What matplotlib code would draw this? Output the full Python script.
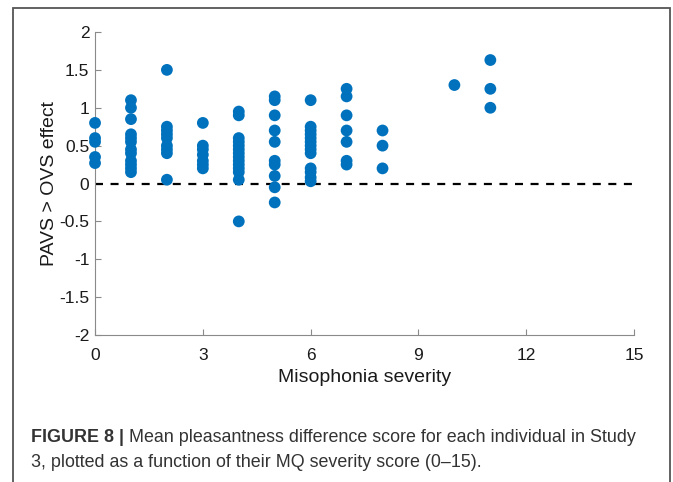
import matplotlib
matplotlib.use('Agg')
import matplotlib.pyplot as plt
from matplotlib.patches import Rectangle

plt.rcParams['font.family'] = ['Liberation Sans', 'DejaVu Sans']

# MQ severity score levels and the individual effects read at each level
severity = [0, 1, 2, 3, 4, 5, 6, 7, 8, 10, 11]
effect_0 = [0.8, 0.6, 0.55, 0.35, 0.27]
effect_1 = [1.1, 1.0, 0.85, 0.65, 0.6, 0.55, 0.45, 0.4, 0.3, 0.25, 0.2, 0.15]
effect_2 = [1.5, 0.75, 0.7, 0.65, 0.6, 0.5, 0.45, 0.4, 0.05]
effect_3 = [0.8, 0.5, 0.45, 0.38, 0.3, 0.25, 0.2]
effect_4 = [0.95, 0.9, 0.6, 0.55, 0.5, 0.45, 0.4, 0.35, 0.3, 0.25, 0.2, 0.15, 0.05, -0.5]
effect_5 = [1.15, 1.1, 0.9, 0.7, 0.55, 0.3, 0.25, 0.1, -0.05, -0.25]
effect_6 = [1.1, 0.75, 0.7, 0.65, 0.6, 0.55, 0.5, 0.45, 0.4, 0.2, 0.15, 0.08, 0.03]
effect_7 = [1.25, 1.15, 0.9, 0.7, 0.55, 0.3, 0.25]
effect_8 = [0.7, 0.5, 0.2]
effect_10 = [1.3]
effect_11 = [1.63, 1.25, 1.0]

effects = [effect_0, effect_1, effect_2, effect_3, effect_4, effect_5,
           effect_6, effect_7, effect_8, effect_10, effect_11]

xticks = [0, 3, 6, 9, 12, 15]
yticks = [-2, -1.5, -1, -0.5, 0, 0.5, 1, 1.5, 2]
ytick_labels = ['-2', '-1.5', '-1', '-0.5', '0', '0.5', '1', '1.5', '2']

caption_bold = 'FIGURE 8 |'
caption_rest = ' Mean pleasantness difference score for each individual in Study'
caption_line2 = '3, plotted as a function of their MQ severity score (0\u201315).'

fig = plt.figure(figsize=(6.73, 4.82), dpi=100)
ax = fig.add_axes([0.1412, 0.3049, 0.801, 0.6287])

xs, ys = [], []
for s, vals in zip(severity, effects):
    xs += [s] * len(vals)
    ys += vals
ax.scatter(xs, ys, s=72, color='#0072BD', edgecolors='none', zorder=3, clip_on=False)

ax.plot([0, 15], [0, 0], color='black', linestyle=(0, (3.6, 3.4)), linewidth=1.6, zorder=2)

ax.set_xlim(0, 15)
ax.set_ylim(-2, 2)
ax.set_xticks(xticks)
ax.set_xticklabels([str(t) for t in xticks])
ax.set_yticks(yticks)
ax.set_yticklabels(ytick_labels)

for side in ['top', 'right']:
    ax.spines[side].set_visible(False)
for side in ['left', 'bottom']:
    ax.spines[side].set_color('#8a8a8a')
    ax.spines[side].set_linewidth(0.8)

ax.tick_params(direction='in', length=4, width=0.8, color='#8a8a8a',
               labelsize=12.5, labelcolor='#1a1a1a')
ax.tick_params(axis='x', pad=9)
ax.tick_params(axis='y', pad=4)

ax.set_xlabel('Misophonia severity', fontsize=14, color='#1a1a1a', labelpad=5)
ax.set_ylabel('PAVS > OVS effect', fontsize=14, color='#1a1a1a', labelpad=1)

# page-style border around the figure
fig.patches.append(Rectangle((0.0193, -0.1), 0.9762, 1.0834, transform=fig.transFigure,
                             fill=False, edgecolor='#555555', linewidth=1.3))

renderer = fig.canvas.get_renderer()
t1 = fig.text(0.046, 0.083, caption_bold, fontsize=12.9, fontweight='bold', color='#333333')
bb = t1.get_window_extent(renderer=renderer).transformed(fig.transFigure.inverted())
fig.text(bb.x1, 0.083, caption_rest, fontsize=12.9, color='#333333')
fig.text(0.046, 0.031, caption_line2, fontsize=12.9, color='#333333')

fig.savefig('out.png', dpi=100)
